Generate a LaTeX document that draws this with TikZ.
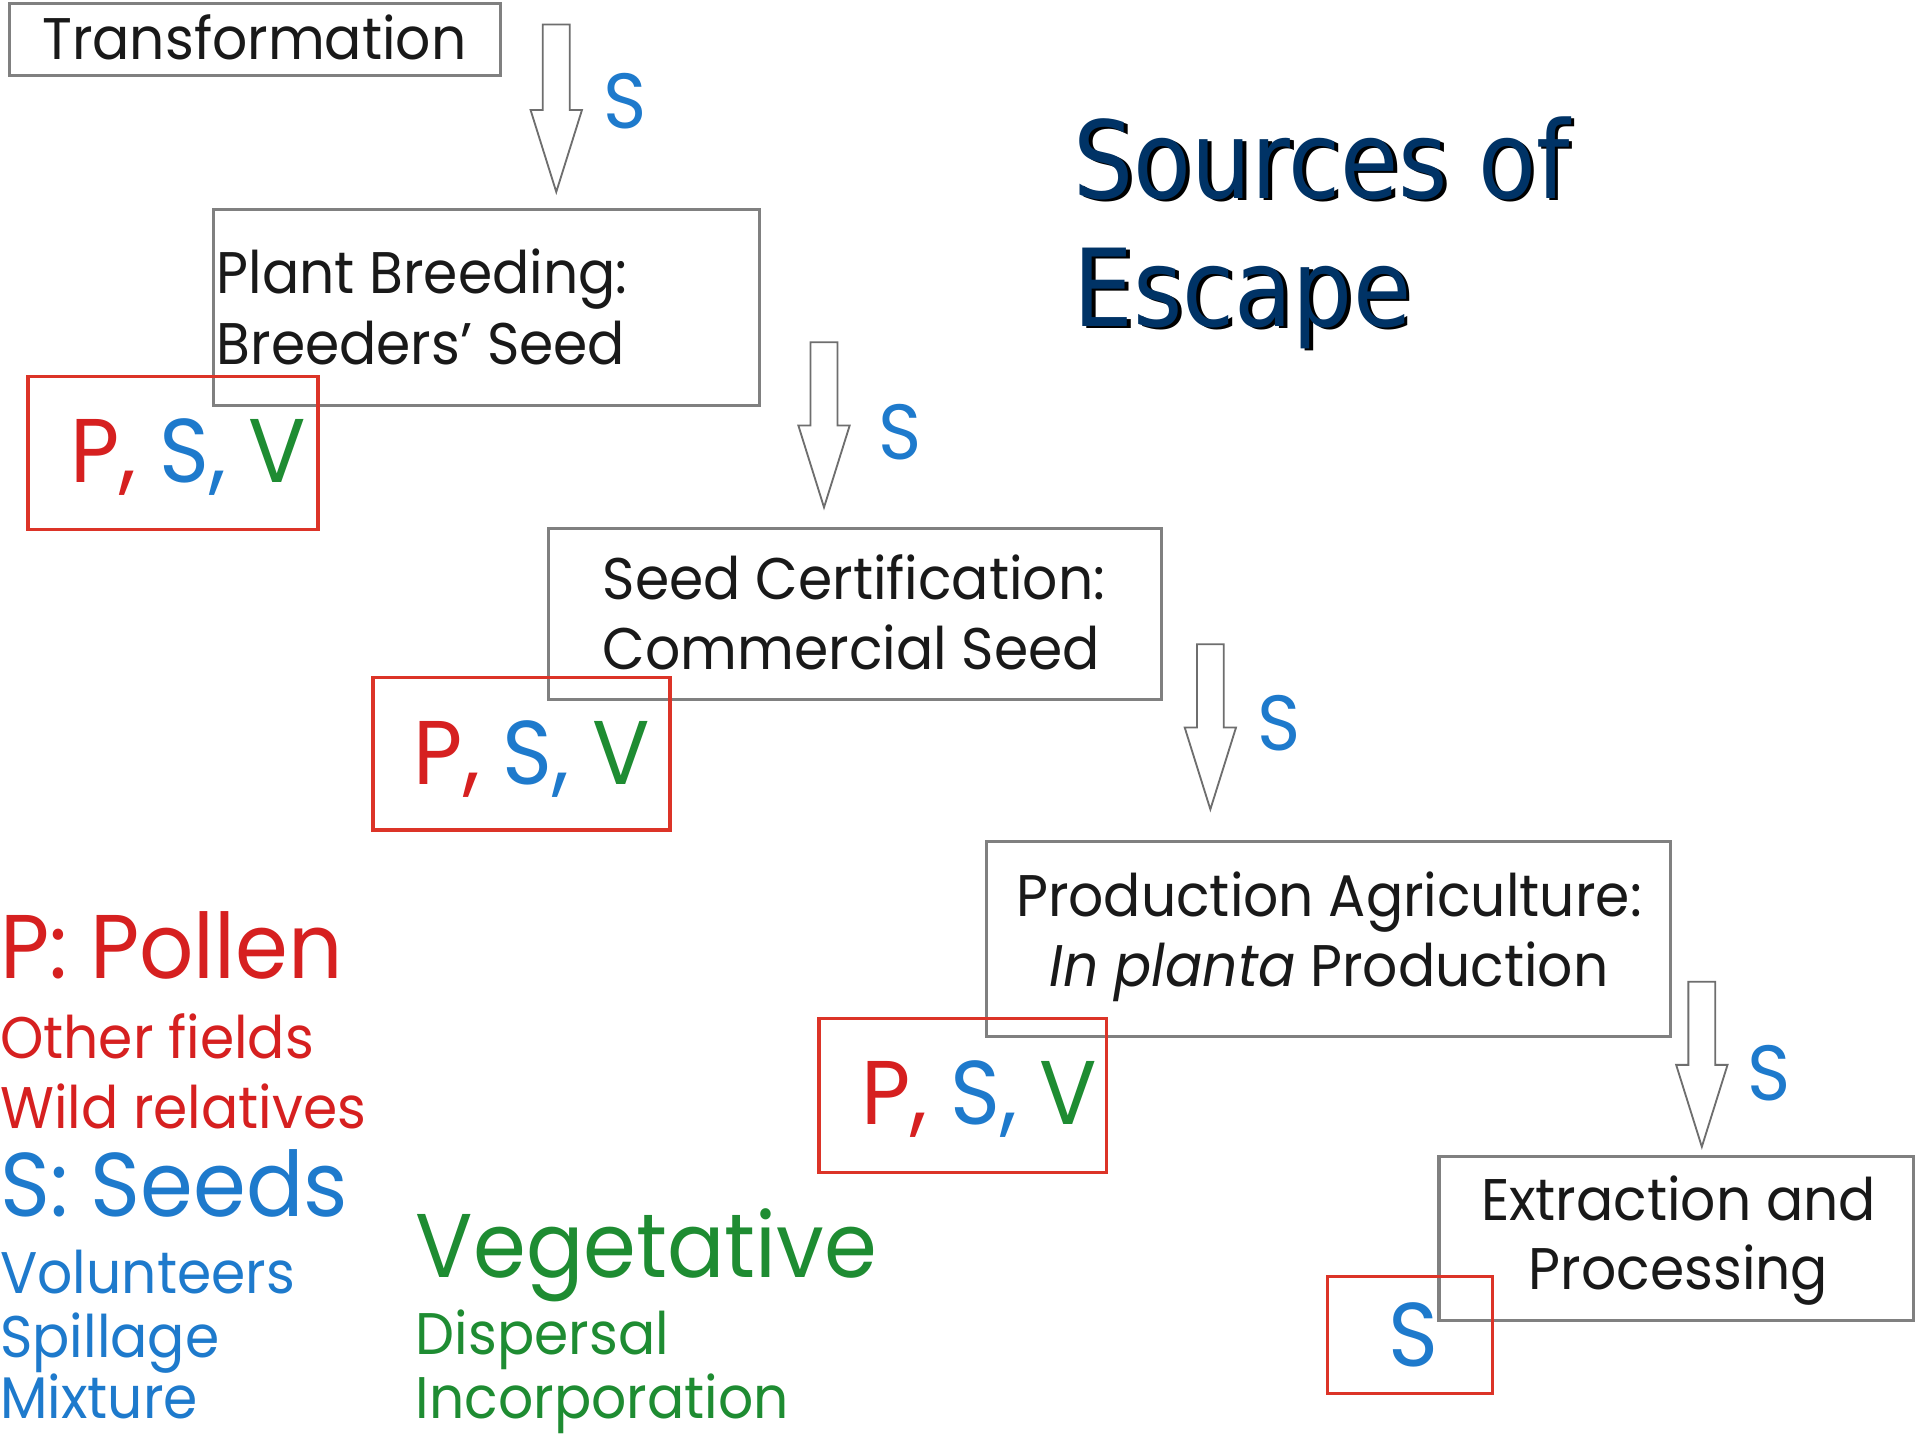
\documentclass[tikz,border=0pt]{standalone}
\usepackage{fontspec}
\setmainfont[FakeStretch=0.94]{Poppins}
\newfontfamily\titlefont[FakeStretch=0.88]{DejaVu Sans}
\usetikzlibrary{calc}
\definecolor{pred}{RGB}{214,32,32}
\definecolor{pblue}{RGB}{30,122,204}
\definecolor{pgreen}{RGB}{30,140,50}
\definecolor{boxred}{RGB}{220,52,40}
\definecolor{boxgray}{RGB}{128,128,128}
\definecolor{arrgray}{RGB}{110,110,110}
\definecolor{navy}{RGB}{0,51,102}
\definecolor{txt}{RGB}{25,25,25}
\newcommand\fsz[1]{\fontsize{#1}{#1}\selectfont}
\newcommand\blockarrow[2]{\draw[harrow] ($(#1)+(-11,0)$) -- ($(#1)+(11,0)$) -- ($(#2)+(11,-67)$) -- ($(#2)+(21,-67)$) -- (#2) -- ($(#2)+(-21,-67)$) -- ($(#2)+(-11,-67)$) -- cycle;}
\tikzset{
  graybox/.style={draw=boxgray, line width=2.5pt, inner sep=0pt},
  redbox/.style={draw=boxred, line width=2.8pt, inner sep=0pt},
  harrow/.style={draw=arrgray, fill=white, line width=1.5pt, line join=miter},
  boxtext/.style={text=txt, inner sep=0pt, font=\fsz{48}},
  slabel/.style={text=pblue, inner sep=0pt, anchor=base, font=\fsz{64}},
  psv/.style={inner sep=0pt, anchor=base, font=\fsz{74}},
  legbig/.style={inner sep=0pt, anchor=base west, font=\fsz{74}},
  legsmall/.style={inner sep=0pt, anchor=base west, font=\fsz{48}},
}
\begin{document}
\begin{tikzpicture}[x=1pt,y=-1pt]
\useasboundingbox[fill=white] (0,0) rectangle (1568,1178);
% boxes
\node[graybox, minimum width=401pt, minimum height=59pt] (trans) at (208.5,32.5) {};
\node[graybox, minimum width=446pt, minimum height=161pt] (pb) at (398,251.5) {};
\node[graybox, minimum width=501pt, minimum height=140pt] (sc) at (699.5,502) {};
\node[graybox, minimum width=559pt, minimum height=160pt] (pa) at (1086.5,768) {};
\node[graybox, minimum width=388pt, minimum height=134pt] (ep) at (1371,1013) {};
\node[redbox, minimum width=237pt, minimum height=125pt] (r1) at (141.5,370.5) {};
\node[redbox, minimum width=243pt, minimum height=125pt] (r2) at (426.5,616.5) {};
\node[redbox, minimum width=235pt, minimum height=126pt] (r3) at (787.5,896) {};
\node[redbox, minimum width=135pt, minimum height=96pt] (r4) at (1153.5,1092) {};
% box texts
\node[boxtext, anchor=base] (t1) at (208,49) {Transformation};
\node[boxtext, anchor=base west] (t2a) at (177,240) {Plant Breeding:};
\node[boxtext, anchor=base west] (t2b) at (177,298) {Breeders’ Seed};
\node[boxtext, anchor=base west] (t3a) at (493,490) {Seed Certification:};
\node[boxtext, anchor=base west] (t3b) at (493,548) {Commercial Seed};
\node[boxtext, anchor=base] (t4a) at (1087,750) {Production Agriculture:};
\node[boxtext, anchor=base] (t4b) at (1087,807) {\textit{In planta} Production};
\node[boxtext, anchor=base] (t5a) at (1373,998) {Extraction and};
\node[boxtext, anchor=base] (t5b) at (1373,1055) {Processing};
% P, S, V
\node[psv] (p1) at (154,395) {\textcolor{pred}{P,} \textcolor{pblue}{S,} \textcolor{pgreen}{V}};
\node[psv] (p2) at (435,642) {\textcolor{pred}{P,} \textcolor{pblue}{S,} \textcolor{pgreen}{V}};
\node[psv] (p3) at (801,920) {\textcolor{pred}{P,} \textcolor{pblue}{S,} \textcolor{pgreen}{V}};
\node[psv, text=pblue] (p4) at (1156,1118) {S};
% arrows
\coordinate (a1s) at (455,20);  \coordinate (a1e) at (455,157);
\coordinate (a2s) at (674,280); \coordinate (a2e) at (674,415);
\coordinate (a3s) at (990,527); \coordinate (a3e) at (990,662);
\coordinate (a4s) at (1392,803); \coordinate (a4e) at (1392,938);
\blockarrow{a1s}{a1e}
\blockarrow{a2s}{a2e}
\blockarrow{a3s}{a3e}
\blockarrow{a4s}{a4e}
\node[slabel] (s1) at (511,105) {S};
\node[slabel] (s2) at (736,376) {S};
\node[slabel] (s3) at (1046,614) {S};
\node[slabel] (s4) at (1447,900) {S};
% title
\node[inner sep=0pt, anchor=base west, text=black, font=\titlefont\fsz{88}] at (881,164) {Sources of};
\node[inner sep=0pt, anchor=base west, text=navy, font=\titlefont\fsz{88}] (title1) at (878,162) {Sources of};
\node[inner sep=0pt, anchor=base west, text=black, font=\titlefont\fsz{88}] at (881,269) {Escape};
\node[inner sep=0pt, anchor=base west, text=navy, font=\titlefont\fsz{88}] (title2) at (878,267) {Escape};
% legend
\node[legbig, text=pred] (lp) at (0,800) {P: Pollen};
\node[legsmall, text=pred] (lp1) at (0,866) {Other fields};
\node[legsmall, text=pred] (lp2) at (0,923) {Wild relatives};
\node[legbig, text=pblue] (ls) at (0,995) {S: Seeds};
\node[legsmall, text=pblue] (ls1) at (0,1058) {Volunteers};
\node[legsmall, text=pblue] (ls2) at (0,1110) {Spillage};
\node[legsmall, text=pblue] (ls3) at (0,1160) {Mixture};
\node[legbig, text=pgreen] (lv) at (340,1045) {Vegetative};
\node[legsmall, text=pgreen] (lv1) at (340,1108) {Dispersal};
\node[legsmall, text=pgreen] (lv2) at (340,1160) {Incorporation};
\end{tikzpicture}
\end{document}
